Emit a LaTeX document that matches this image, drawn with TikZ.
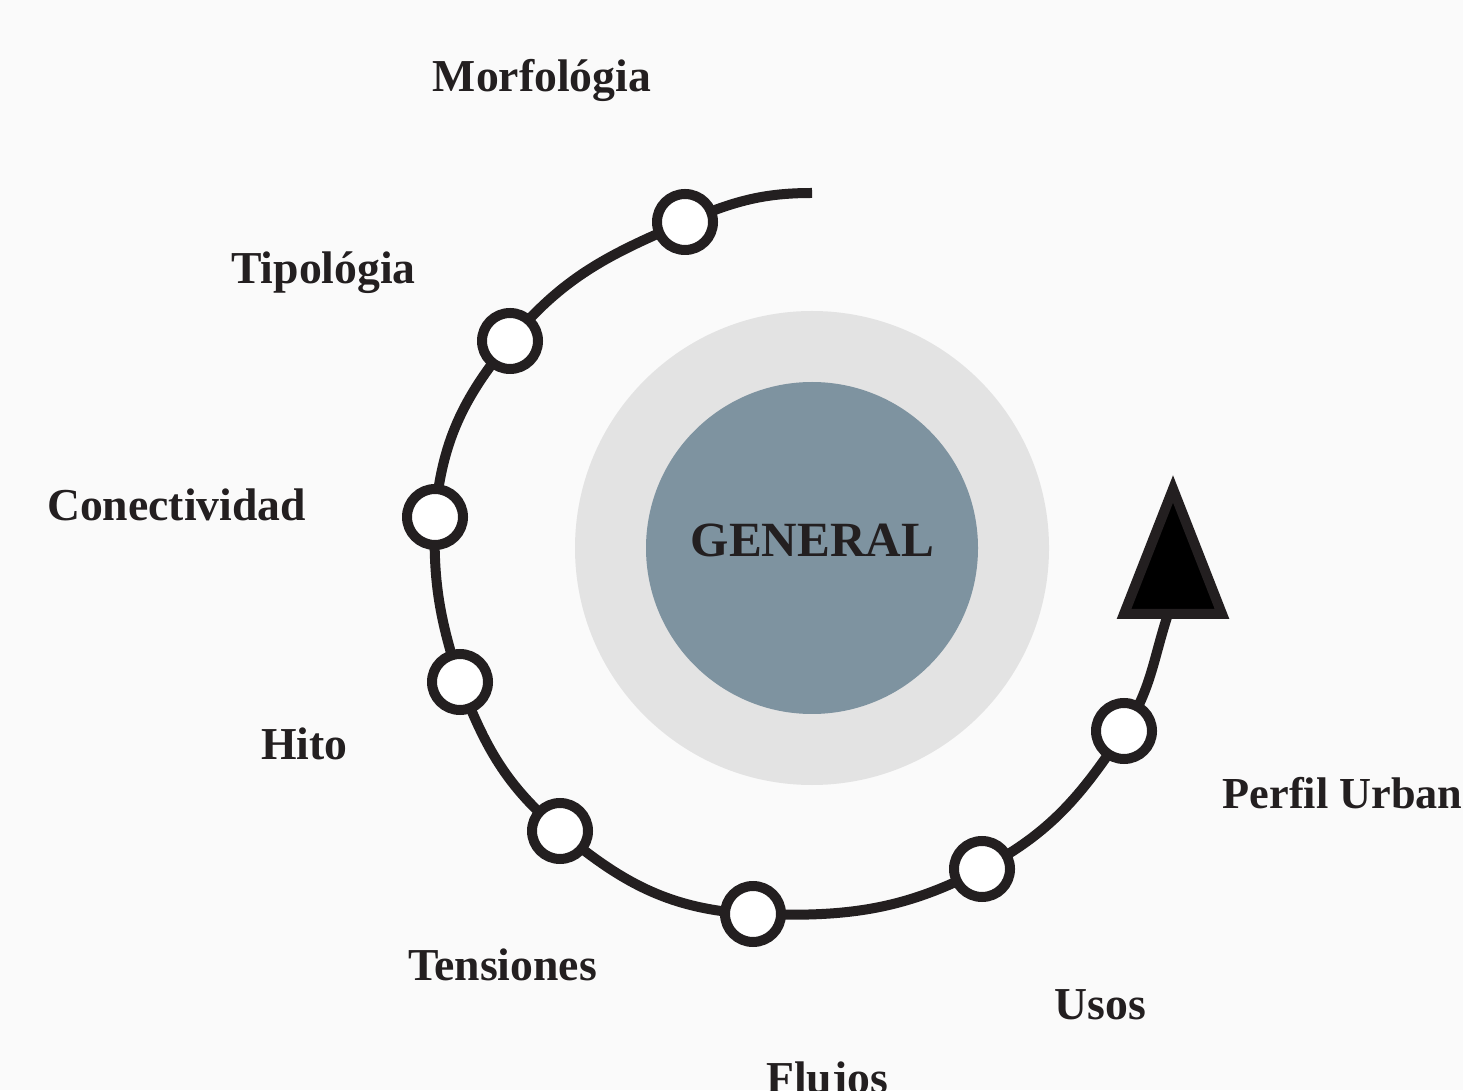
\documentclass[tikz,border=0pt]{standalone}
\usepackage{fontspec}
\setmainfont{Liberation Serif}
\definecolor{ink}{HTML}{231F20}
\definecolor{bg}{HTML}{FAFAFA}
\definecolor{ring}{HTML}{E3E3E3}
\definecolor{core}{HTML}{7E93A0}
\begin{document}
\begin{tikzpicture}[x=0.1mm,y=0.1mm,
  lbl/.style={font=\fontsize{13}{15}\selectfont\bfseries, text=ink, inner sep=0, anchor=base},
  stopdot/.style={circle, draw=ink, fill=white, line width=2.845pt, minimum size=5.6mm, inner sep=0},
  track/.style={draw=ink, line width=2.845pt}]
\useasboundingbox (0,0) rectangle (1463,1090);
\clip (0,0) rectangle (1463,1090);
\fill[bg] (0,0) rectangle (1463,1090);
% central disks
\node[circle, fill=ring, minimum size=47.4mm, inner sep=0] (halo) at (812,542) {};
\node[circle, fill=core, minimum size=33.2mm, inner sep=0] (core) at (812,542) {};
\node[font=\fontsize{14}{16}\selectfont\bfseries, text=ink, inner sep=0, anchor=base] (gen) at (812.5,533) {GENERAL};
% path points
\coordinate (s) at (812,897);
\coordinate (p1) at (685,868);
\coordinate (p2) at (510,749);
\coordinate (p3) at (435,573);
\coordinate (p4) at (460,408);
\coordinate (p5) at (560,259);
\coordinate (p6) at (753,176);
\coordinate (p7) at (982,221);
\coordinate (p8) at (1124,359);
\coordinate (e) at (1168,476);
\draw[track] (s) to[out=180,in=23] (p1) to[out=203,in=50.5] (p2)
  to[out=230.5,in=85] (p3) to[out=268,in=108] (p4) to[out=291,in=140] (p5)
  to[out=320,in=177] (p6) to[out=358,in=207.7] (p7) to[out=27.7,in=236.5] (p8)
  to[out=56.5,in=252] (e);
% arrow head
\coordinate (a1) at (1173,601);
\coordinate (a2) at (1124,476);
\coordinate (a3) at (1222,476);
\draw[draw=ink, fill=black, line width=2.845pt, line join=miter] (a1) -- (a2) -- (a3) -- cycle;
% stops
\foreach \i in {1,...,8} { \node[stopdot] (c\i) at (p\i) {}; }
% labels
\node[lbl] (l1) at (542,998) {Morfológia};
\node[lbl] (l2) at (323.5,806) {Tipológia};
\node[lbl] (l3) at (176.5,569) {Conectividad};
\node[lbl] (l4) at (304.5,331) {Hito};
\node[lbl] (l5) at (502.5,110) {Tensiones};
\node[lbl] (l6) at (827,-3) {Flujos};
\node[lbl] (l7) at (1100.5,71) {Usos};
\node[lbl, font=\fontsize{12.6}{15}\selectfont\bfseries, anchor=base west] (l8) at (1222,282) {Perfil Urban};
\end{tikzpicture}
\end{document}
